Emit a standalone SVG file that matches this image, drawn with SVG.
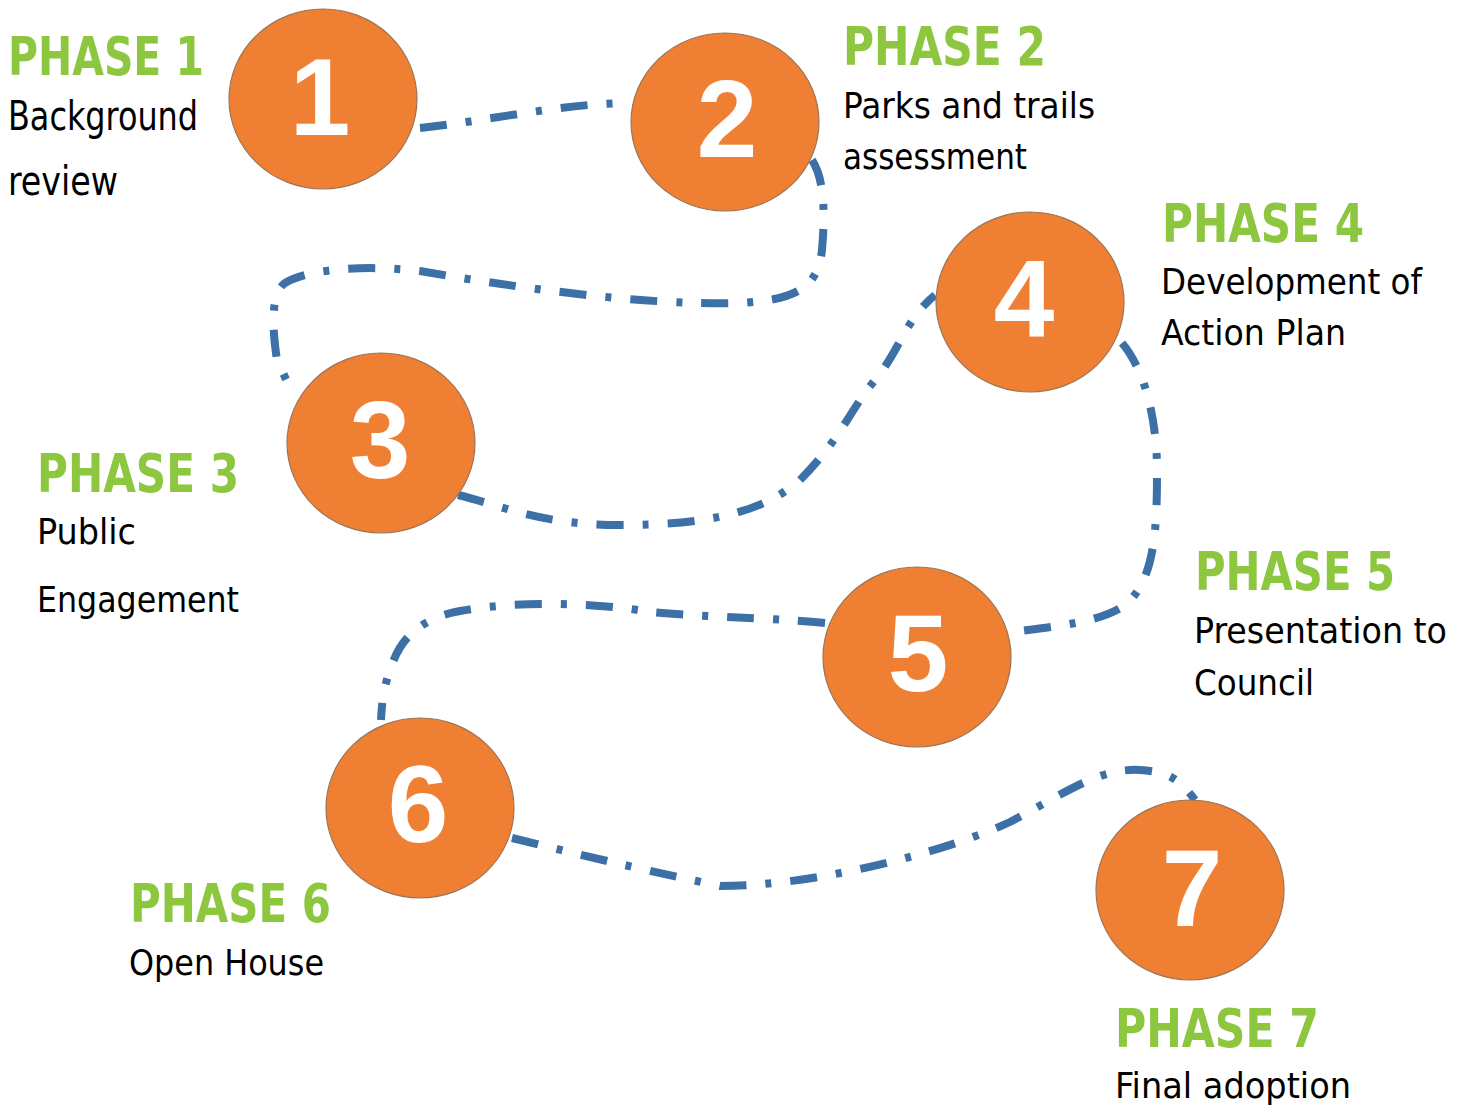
<svg xmlns="http://www.w3.org/2000/svg" width="1468" height="1108" viewBox="0 0 1468 1108">
<style>
.bg{fill:#ffffff}
.trail{fill:none;stroke:#3d70a6;stroke-width:8;stroke-dasharray:27 19 6 19;stroke-linecap:butt}
.disc{fill:#ee7f33;stroke:#9a7558;stroke-width:1.2}
.num{font-family:"Liberation Sans",Arial,sans-serif;font-weight:bold;font-size:109px;fill:#ffffff;text-anchor:middle}
.ph{font-family:"DejaVu Sans Condensed","DejaVu Sans",sans-serif;font-weight:bold;font-size:53px;fill:#8dc63f}
.tx{font-family:"DejaVu Sans Condensed","DejaVu Sans",sans-serif;font-size:36px;fill:#000000}
</style>
<rect class="bg" x="0" y="0" width="1468" height="1108"/>
<g id="connectors">
<path class="trail" d="M420,128 C480,122 560,104 625,103"/>
<path class="trail" d="M812,160 C825,180 825,215 822,250 C818,285 800,300 740,303 C640,306 500,285 420,271 C370,265 310,268 285,283 C268,295 274,340 277,360 L290,388"/>
<path class="trail" d="M458,495 C500,505 540,525 620,525 C700,525 760,515 800,480 C840,440 850,410 875,380 C900,350 905,320 935,295"/>
<path class="trail" d="M1122,343 C1145,370 1157,420 1157,470 C1157,530 1155,580 1125,605 C1100,622 1060,626 1012,632"/>
<path class="trail" d="M825,623 C760,617 700,617 650,612 C600,603 520,600 460,611 C420,618 400,640 392,665 C384,685 382,700 381,720"/>
<path class="trail" d="M512,838 C540,845 620,865 720,886 C820,886 950,850 1010,822 C1070,790 1100,768 1140,770 C1170,772 1180,780 1195,800"/>
</g>
<g id="phase1">
<ellipse class="disc" cx="323" cy="99" rx="94" ry="90"/>
<text class="num" x="320" y="135">1</text>
<text class="ph" x="8" y="75" textLength="196" lengthAdjust="spacingAndGlyphs">PHASE 1</text>
<text class="tx" x="8" y="130" style="font-size:40px" textLength="190" lengthAdjust="spacingAndGlyphs">Background</text>
<text class="tx" x="8" y="195" style="font-size:40px" textLength="110" lengthAdjust="spacingAndGlyphs">review</text>
</g>
<g id="phase2">
<ellipse class="disc" cx="725" cy="122" rx="94" ry="89"/>
<text class="num" x="727" y="157">2</text>
<text class="ph" x="843" y="65" textLength="203" lengthAdjust="spacingAndGlyphs">PHASE 2</text>
<text class="tx" x="843" y="118" textLength="252" lengthAdjust="spacingAndGlyphs">Parks and trails</text>
<text class="tx" x="843" y="169" textLength="184" lengthAdjust="spacingAndGlyphs">assessment</text>
</g>
<g id="phase3">
<ellipse class="disc" cx="381" cy="443" rx="94" ry="90"/>
<text class="num" x="380" y="478">3</text>
<text class="ph" x="37" y="492" textLength="202" lengthAdjust="spacingAndGlyphs">PHASE 3</text>
<text class="tx" x="37" y="544" textLength="99" lengthAdjust="spacingAndGlyphs">Public</text>
<text class="tx" x="37" y="612" textLength="202" lengthAdjust="spacingAndGlyphs">Engagement</text>
</g>
<g id="phase4">
<ellipse class="disc" cx="1030" cy="302" rx="94" ry="90"/>
<text class="num" x="1024" y="336">4</text>
<text class="ph" x="1162" y="242" textLength="202" lengthAdjust="spacingAndGlyphs">PHASE 4</text>
<text class="tx" x="1161" y="294" textLength="261" lengthAdjust="spacingAndGlyphs">Development of</text>
<text class="tx" x="1161" y="345" textLength="185" lengthAdjust="spacingAndGlyphs">Action Plan</text>
</g>
<g id="phase5">
<ellipse class="disc" cx="917" cy="657" rx="94" ry="90"/>
<text class="num" x="918" y="691">5</text>
<text class="ph" x="1195" y="590" textLength="200" lengthAdjust="spacingAndGlyphs">PHASE 5</text>
<text class="tx" x="1194" y="643" textLength="253" lengthAdjust="spacingAndGlyphs">Presentation to</text>
<text class="tx" x="1194" y="695" textLength="120" lengthAdjust="spacingAndGlyphs">Council</text>
</g>
<g id="phase6">
<ellipse class="disc" cx="420" cy="808" rx="94" ry="90"/>
<text class="num" x="418" y="842">6</text>
<text class="ph" x="130" y="922" textLength="201" lengthAdjust="spacingAndGlyphs">PHASE 6</text>
<text class="tx" x="129" y="975" textLength="195" lengthAdjust="spacingAndGlyphs">Open House</text>
</g>
<g id="phase7">
<ellipse class="disc" cx="1190" cy="890" rx="94" ry="90"/>
<text class="num" x="1192" y="926">7</text>
<text class="ph" x="1115" y="1047" textLength="204" lengthAdjust="spacingAndGlyphs">PHASE 7</text>
<text class="tx" x="1115" y="1098" textLength="236" lengthAdjust="spacingAndGlyphs">Final adoption</text>
</g>
</svg>
